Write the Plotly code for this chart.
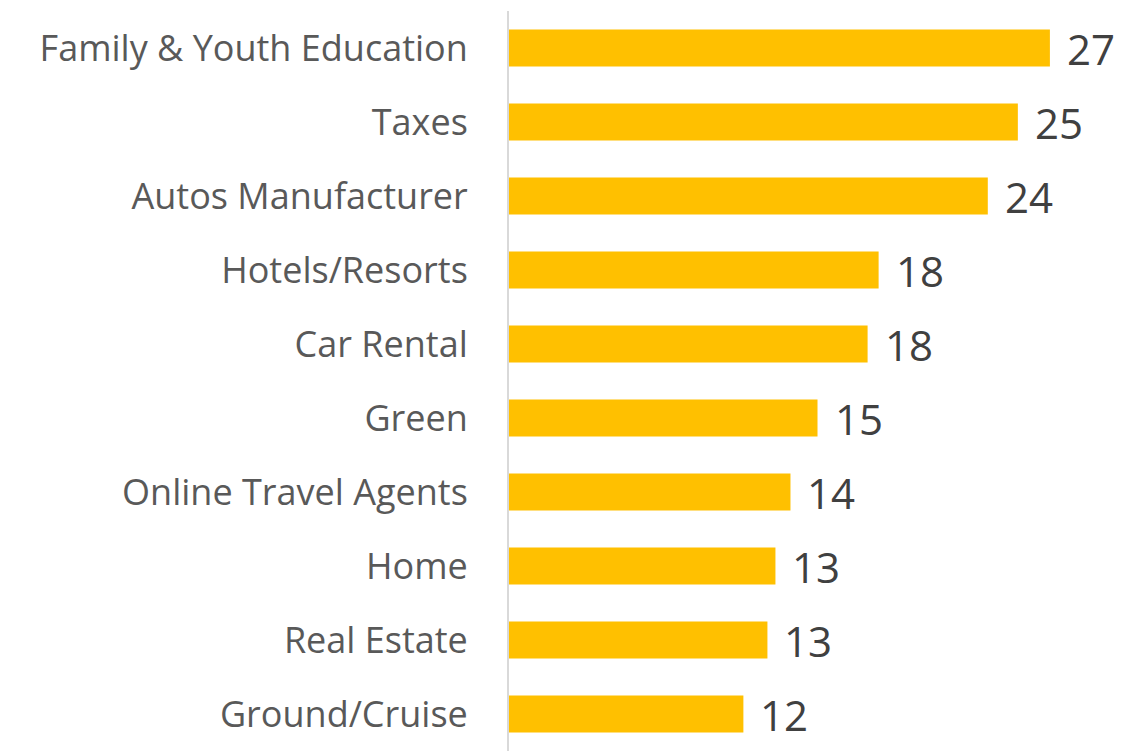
import plotly.graph_objects as go

categories = [
    "Family & Youth Education", "Taxes", "Autos Manufacturer", "Hotels/Resorts",
    "Car Rental", "Green", "Online Travel Agents", "Home", "Real Estate", "Ground/Cruise",
]
values = [27.0, 25.4, 23.9, 18.45, 17.9, 15.4, 14.05, 13.3, 12.9, 11.7]

fig = go.Figure(
    go.Bar(
        x=values,
        y=categories,
        orientation="h",
        marker=dict(color="#FFC000", line=dict(width=0)),
        width=0.5,
        hoverinfo="x+y",
    )
)

# value labels placed just past the end of each bar
for cat, val in zip(categories, values):
    fig.add_annotation(
        x=val,
        y=cat,
        text=f"{val:.0f}",
        showarrow=False,
        xanchor="left",
        yanchor="middle",
        xshift=15,
        yshift=0,
        font=dict(family="Open Sans", size=42, color="#404040"),
    )

fig.update_layout(
    width=1143,
    height=755,
    margin=dict(l=509, r=33, t=11, b=4),
    paper_bgcolor="white",
    plot_bgcolor="white",
    showlegend=False,
    bargap=0.5,
)
fig.update_xaxes(range=[0, 30], visible=False)
fig.update_yaxes(
    autorange="reversed",
    showline=True,
    linecolor="#D9D9D9",
    linewidth=2,
    showgrid=False,
    ticks="",
    ticklabelstandoff=32,
    tickfont=dict(family="Open Sans", size=36, color="#595959"),
)

fig.write_html("out.html")
